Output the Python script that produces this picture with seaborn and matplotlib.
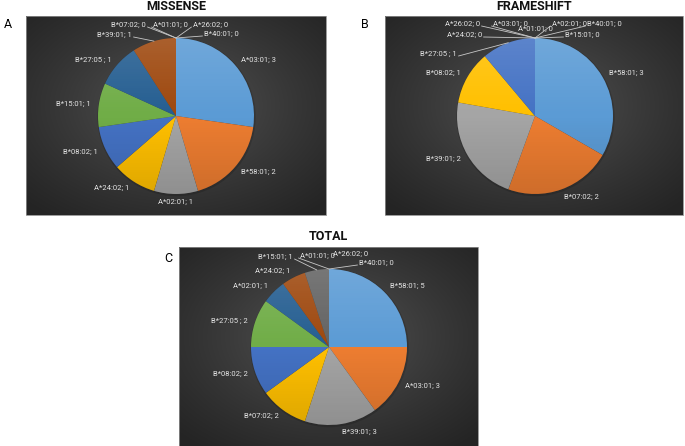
import numpy as np
import matplotlib.pyplot as plt
import seaborn as sns
from matplotlib.patches import Circle, Rectangle

sns.set_theme(style='white')
plt.rcParams['font.family'] = ['Roboto', 'DejaVu Sans']

# Datos de cada panel (orden de las rebanadas, en sentido horario desde arriba)
missense_alleles = ['A*03:01', 'B*58:01', 'A*02:01', 'A*24:02', 'B*08:02', 'B*15:01',
                    'B*27:05 ', 'B*39:01', 'B*07:02', 'A*01:01', 'A*26:02', 'B*40:01']
missense_counts = [3, 2, 1, 1, 1, 1, 1, 1, 0, 0, 0, 0]

frameshift_alleles = ['B*58:01', 'B*07:02', 'B*39:01', 'B*08:02', 'B*27:05 ', 'A*24:02',
                      'A*26:02', 'A*03:01', 'A*01:01', 'A*02:01', 'B*40:01', 'B*15:01']
frameshift_counts = [3, 2, 2, 1, 1, 0, 0, 0, 0, 0, 0, 0]

total_alleles = ['B*58:01', 'A*03:01', 'B*39:01', 'B*07:02', 'B*08:02', 'B*27:05 ',
                 'A*02:01', 'A*24:02', 'B*15:01', 'A*01:01', 'A*26:02', 'B*40:01']
total_counts = [5, 3, 3, 2, 2, 2, 1, 1, 1, 0, 0, 0]

# paleta tipo Office
colors = sns.color_palette(['#5B9BD5', '#ED7D31', '#A5A5A5', '#FFC000', '#4472C4',
                            '#70AD47', '#255E91', '#9E480E', '#636363', '#997300',
                            '#264478', '#43682B'])

W, H = 685, 446
R = 78

# etiquetas movidas a mano (con linea guia), en pixeles desde arriba
moved_a = {
    'B*39:01': (132, 35, 'right', True),
    'B*07:02': (146, 25, 'right', True),
    'A*01:01': (153, 25, 'left', True),
    'A*26:02': (193, 25, 'left', True),
    'B*40:01': (204, 34, 'left', True),
}
moved_b = {
    'B*27:05': (457, 54, 'right', True),
    'A*26:02': (480, 24, 'right', True),
    'A*03:01': (493, 24, 'left', True),
    'A*01:01': (518, 29, 'left', False),
    'A*02:01': (552, 24, 'left', True),
    'B*40:01': (587, 24, 'left', True),
    'A*24:02': (482, 35, 'right', True),
    'B*15:01': (565, 35, 'left', True),
}
moved_c = {
    'B*15:01': (293, 257, 'right', True),
    'A*01:01': (300, 256, 'left', True),
    'A*26:02': (333, 254, 'left', False),
    'B*40:01': (359, 263, 'left', True),
}

panels = [
    ('MISSENSE', 'A', missense_alleles, missense_counts, (26, 16, 326, 215), (176, 116), (4, 24), moved_a),
    ('FRAMESHIFT', 'B', frameshift_alleles, frameshift_counts, (385, 16, 683, 215), (535, 116), (361, 24), moved_b),
    ('TOTAL', 'C', total_alleles, total_counts, (179, 247, 478, 447), (329, 347), (164, 258), moved_c),
]

fig = plt.figure(figsize=(W / 100, H / 100), dpi=100)
ax = fig.add_axes([0, 0, 1, 1])

for title, letter, alleles, counts, box, center, letter_xy, moved in panels:
    x0, y0, x1, y1 = box
    cx, cy = center[0], H - center[1]

    # fondo oscuro con degradado radial
    yy, xx = np.mgrid[0:1:200j, 0:1:300j]
    d = np.clip(np.sqrt(((xx - 0.5) * 2) ** 2 + ((yy - 0.45) * 2) ** 2) / np.sqrt(2), 0, 1)
    inner, outer = 0x5c / 255, 0x24 / 255
    img = inner + (outer - inner) * d[..., None] ** 0.7 * np.ones(3)
    ax.imshow(img, extent=(x0, x1, H - y1, H - y0), zorder=0, interpolation='bilinear')
    ax.add_patch(Rectangle((x0, H - y1), x1 - x0, y1 - y0, fill=False,
                           edgecolor='#8a8a8a', lw=0.6, zorder=0.5))

    # sombra suave del pastel
    ax.add_patch(Circle((cx + 0.5, cy - 1.0), R + 1.2, color='black', alpha=0.15, lw=0, zorder=1))

    wedges, _ = ax.pie(counts, colors=colors[:len(counts)], startangle=90, counterclock=False,
                       center=(cx, cy), radius=R, frame=True,
                       wedgeprops=dict(linewidth=0, zorder=2))

    # brillo arriba / sombra abajo como en Excel
    t = np.linspace(0, 1, 120)[:, None]
    shade = np.zeros((120, 1, 4))
    shade[..., :3] = np.where(t < 0.5, 1.0, 0.0)[..., None]
    shade[..., 3] = np.abs(t - 0.5) * 2 * 0.13
    im = ax.imshow(shade, extent=(cx - R, cx + R, cy - R, cy + R), zorder=3,
                   interpolation='bilinear', aspect='auto')
    im.set_clip_path(Circle((cx, cy), R, transform=ax.transData))

    for wedge, allele, n in zip(wedges, alleles, counts):
        label = f'{allele}; {n}'
        mid = np.deg2rad((wedge.theta1 + wedge.theta2) / 2)
        ex, ey = cx + R * np.cos(mid), cy + R * np.sin(mid)
        key = allele.strip()
        if key in moved:
            tx, ty, ha, leader = moved[key]
            ty = H - ty
            if leader:
                sx = tx + {'right': 1.5, 'left': -1.5, 'center': 0}[ha]
                ax.plot([sx, ex], [ty - 2, ey], color='#c8c8c8', lw=0.6, zorder=4)
        else:
            c = np.cos(mid)
            tx, ty = cx + 1.1 * R * c, cy + 1.1 * R * np.sin(mid)
            ha = 'left' if c > 0.1 else ('right' if c < -0.1 else 'center')
        ax.text(tx, ty, label, ha=ha, va='center', fontsize=5.5, color='#e4e4e4', zorder=5)

    ax.text((x0 + x1) / 2, H - y0 + 10, title, ha='center', va='center', fontsize=9,
            fontweight='bold', color='#111111')
    ax.text(letter_xy[0], H - letter_xy[1], letter, ha='left', va='center', fontsize=9,
            color='black')

ax.set_xlim(0, W)
ax.set_ylim(0, H)
ax.set_aspect('equal')
ax.axis('off')

fig.savefig('out.png', dpi=100)
